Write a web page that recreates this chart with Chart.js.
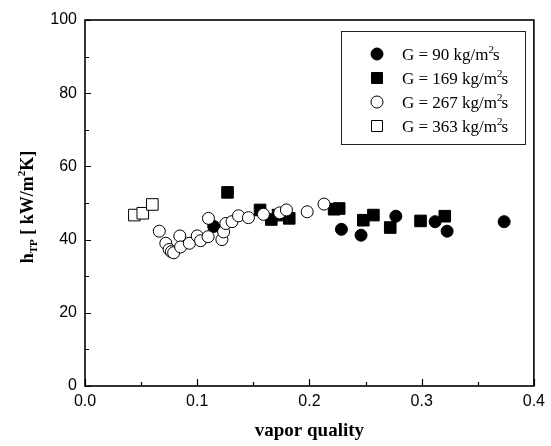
<!DOCTYPE html>
<html>
<head>
<meta charset="utf-8">
<script src="https://cdn.jsdelivr.net/npm/chart.js@4.4.0/dist/chart.umd.min.js"></script>
<style>
  body { margin: 0; background: #fff; }
  #wrap { width: 551px; height: 446px; }
</style>
</head>
<body>
<div id="wrap"><canvas id="c" width="551" height="446"></canvas></div>
<script>
// データ
const seriesNames = ['G = 90 kg/m²s', 'G = 169 kg/m²s', 'G = 267 kg/m²s', 'G = 363 kg/m²s'];

const g90x = [0.1147, 0.2285, 0.246, 0.277, 0.312, 0.3227, 0.3735];
const g90y = [43.6, 42.8, 41.2, 46.4, 44.9, 42.3, 44.9];

const g169x = [0.127, 0.156, 0.166, 0.172, 0.182, 0.222, 0.2265, 0.248, 0.257, 0.272, 0.299, 0.3206];
const g169y = [52.9, 48.1, 45.5, 46.7, 45.8, 48.3, 48.5, 45.3, 46.7, 43.3, 45.1, 46.4];

const g267x = [0.0662, 0.072, 0.075, 0.077, 0.079, 0.0845, 0.0852, 0.093, 0.100, 0.103, 0.1097, 0.110,
               0.122, 0.1235, 0.1255, 0.131, 0.1368, 0.1456, 0.159, 0.1735, 0.1795, 0.198, 0.213];
const g267y = [42.3, 39.0, 37.3, 36.7, 36.4, 41.0, 38.0, 39.0, 41.0, 39.7, 40.8, 45.8,
               40.0, 42.1, 44.4, 44.9, 46.5, 46.0, 46.9, 47.3, 48.1, 47.6, 49.7];

const g363x = [0.044, 0.0515, 0.060];
const g363y = [46.7, 47.2, 49.6];

const xTicks = [0.0, 0.1, 0.2, 0.3, 0.4];
const yTicks = [0, 20, 40, 60, 80, 100];

function pts(xs, ys) {
    return xs.map((x, i) => ({ x: x, y: ys[i] }));
}

const tickFont = { family: '"Liberation Sans", Arial, sans-serif', size: 16 };
const serif = '"Liberation Serif", "Times New Roman", serif';

// 凡例・枠・目盛り・軸タイトルを描くプラグイン
const decor = {
    id: 'decor',
    afterDraw(chart) {
        const ctx = chart.ctx;
        const a = chart.chartArea;
        const xs = chart.scales.x, ys = chart.scales.y;
        ctx.save();
        ctx.strokeStyle = '#000';

        // 内向きの目盛り
        ctx.lineWidth = 1.2;
        ctx.beginPath();
        for (let v = 0; v <= 100; v += 10) {
            const p = Math.round(ys.getPixelForValue(v)) + 0.5;
            const len = v % 20 === 0 ? 6 : 4;
            ctx.moveTo(a.left, p); ctx.lineTo(a.left + len, p);
        }
        for (let k = 0; k <= 8; k++) {
            const p = Math.round(xs.getPixelForValue(k * 0.05)) + 0.5;
            const len = k % 2 === 0 ? 7 : 4;
            ctx.moveTo(p, a.bottom); ctx.lineTo(p, a.bottom - len);
        }
        ctx.stroke();

        // 枠
        ctx.lineWidth = 1.6;
        ctx.strokeRect(a.left, a.top, a.right - a.left, a.bottom - a.top);

        // x軸タイトル
        ctx.fillStyle = '#000';
        ctx.font = 'bold 19px ' + serif;
        ctx.textAlign = 'center';
        ctx.textBaseline = 'middle';
        ctx.fillText('vapor quality', (a.left + a.right) / 2, 431);

        // y軸タイトル（下付き・上付き付き）
        const segs = [
            { t: 'h', s: 18, dy: 0 },
            { t: 'TP', s: 11, dy: 4 },
            { t: ' [ kW/m', s: 18, dy: 0 },
            { t: '2', s: 11, dy: -8 },
            { t: 'K]', s: 18, dy: 0 }
        ];
        ctx.textAlign = 'left';
        ctx.textBaseline = 'alphabetic';
        let total = 0;
        segs.forEach(sg => { ctx.font = 'bold ' + sg.s + 'px ' + serif; sg.w = ctx.measureText(sg.t).width; total += sg.w; });
        ctx.translate(33, 207);
        ctx.rotate(-Math.PI / 2);
        let cx = -total / 2;
        segs.forEach(sg => {
            ctx.font = 'bold ' + sg.s + 'px ' + serif;
            ctx.fillText(sg.t, cx, sg.dy);
            cx += sg.w;
        });
        ctx.setTransform(1, 0, 0, 1, 0, 0);

        // 凡例
        ctx.lineWidth = 1;
        ctx.strokeStyle = '#222';
        ctx.strokeRect(341.5, 31.5, 184, 113);
        const rows = [54, 78, 102, 126];
        const mx = 377;
        chart.data.datasets.forEach(ds => {
            const y = rows[ds.legendRow];
            ctx.strokeStyle = '#000';
            ctx.fillStyle = ds.backgroundColor;
            ctx.lineWidth = 1;
            ctx.beginPath();
            if (ds.pointStyle === 'circle') {
                ctx.arc(mx, y, 6, 0, Math.PI * 2);
            } else {
                ctx.rect(mx - 5.5, y - 5.5, 11, 11);
            }
            ctx.fill();
            ctx.stroke();
            // テキスト
            ctx.fillStyle = '#000';
            const parts = ds.label.split('²');
            ctx.font = '17px ' + serif;
            let tx = 402;
            ctx.fillText(parts[0], tx, y + 6);
            tx += ctx.measureText(parts[0]).width;
            ctx.font = '11px ' + serif;
            ctx.fillText('2', tx, y - 1);
            tx += ctx.measureText('2').width - 1;
            ctx.font = '17px ' + serif;
            ctx.fillText(parts[1], tx, y + 6);
        });
        ctx.restore();
    }
};

new Chart(document.getElementById('c'), {
    type: 'scatter',
    data: {
        datasets: [
            { label: seriesNames[0], data: pts(g90x, g90y), pointStyle: 'circle', pointRadius: 6,
              backgroundColor: '#000', borderColor: '#000', borderWidth: 1, order: 3, legendRow: 0 },
            { label: seriesNames[1], data: pts(g169x, g169y), pointStyle: 'rect', pointRadius: 8.2,
              backgroundColor: '#000', borderColor: '#000', borderWidth: 1, order: 2, legendRow: 1 },
            { label: seriesNames[2], data: pts(g267x, g267y), pointStyle: 'circle', pointRadius: 6,
              backgroundColor: '#fff', borderColor: '#000', borderWidth: 1, order: 0, legendRow: 2 },
            { label: seriesNames[3], data: pts(g363x, g363y), pointStyle: 'rect', pointRadius: 8.2,
              backgroundColor: '#fff', borderColor: '#000', borderWidth: 1, order: 1, legendRow: 3 }
        ]
    },
    options: {
        responsive: false,
        animation: false,
        layout: { padding: { left: 0, top: 20, right: 13, bottom: 0 } },
        plugins: { legend: { display: false }, tooltip: { enabled: false } },
        scales: {
            x: {
                type: 'linear', min: 0, max: 0.4,
                afterFit: s => { s.height = 60; },
                afterBuildTicks: s => { s.ticks = xTicks.map(v => ({ value: v })); },
                grid: { display: false, drawTicks: false },
                border: { display: false },
                ticks: { padding: 6, color: '#000', font: tickFont, maxRotation: 0,
                         callback: v => Number(v).toFixed(1) }
            },
            y: {
                type: 'linear', min: 0, max: 100,
                afterFit: s => { s.width = 85; },
                afterBuildTicks: s => { s.ticks = yTicks.map(v => ({ value: v })); },
                grid: { display: false, drawTicks: false },
                border: { display: false },
                ticks: { padding: 8, color: '#000', font: tickFont }
            }
        }
    },
    plugins: [decor]
});
</script>
</body>
</html>
